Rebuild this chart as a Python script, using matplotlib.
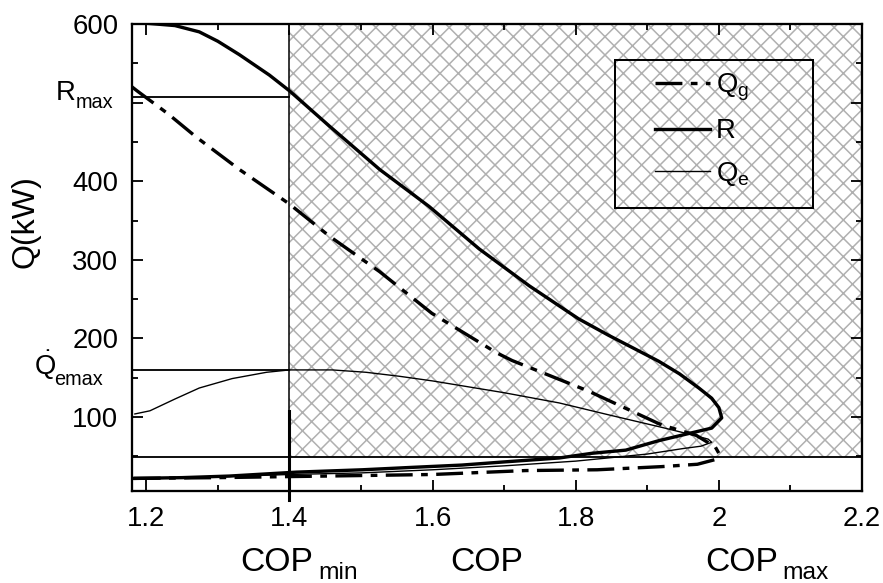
import matplotlib
matplotlib.use('Agg')
import matplotlib.pyplot as plt
from matplotlib.patches import Rectangle
from matplotlib.ticker import MultipleLocator, FixedLocator, FixedFormatter

plt.rcParams['font.family'] = ['Liberation Sans', 'DejaVu Sans']
plt.rcParams['mathtext.fontset'] = 'custom'
plt.rcParams['mathtext.rm'] = 'Liberation Sans'
plt.rcParams['mathtext.it'] = 'Liberation Sans:italic'
plt.rcParams['hatch.linewidth'] = 1.0

# limites
cop_min = 1.4
cop_max = 2.0
r_max = 507
qe_max = 160
q_low = 49

# R (kW) x COP : ramo superior e ramo inferior
cop_R = [1.18, 1.20, 1.24, 1.274, 1.30, 1.33, 1.372, 1.40, 1.456, 1.526, 1.595,
         1.665, 1.735, 1.804, 1.846, 1.88, 1.916, 1.945, 1.972, 1.99, 2.0, 2.004,
         1.99, 1.962, 1.916, 1.87, 1.823, 1.777, 1.70, 1.641, 1.57, 1.502, 1.41,
         1.316, 1.25, 1.18]
q_R = [603, 601, 598, 590, 578, 561, 535, 515, 470, 415, 368,
       314, 267, 225, 204, 188, 171, 155, 137, 124, 112, 99,
       86, 80, 70, 58, 54, 48, 43, 39, 36, 33, 30,
       25, 23, 22]

# Qg (kW) x COP
cop_Qg = [1.18, 1.187, 1.23, 1.27, 1.33, 1.40, 1.456, 1.526, 1.599, 1.689,
          1.711, 1.818, 1.92, 1.968, 1.995, 2.0, 1.995, 1.97, 1.92, 1.83,
          1.73, 1.60, 1.45, 1.30, 1.18]
q_Qg = [520, 515, 486, 456, 415, 371, 330, 285, 232, 182,
        172, 133, 90, 77, 62, 54, 46, 40, 37, 33,
        32, 27, 25, 23, 22]

# Qe (kW) x COP
cop_Qe = [1.184, 1.205, 1.24, 1.274, 1.32, 1.368, 1.40, 1.46, 1.507, 1.553,
          1.60, 1.70, 1.777, 1.85, 1.92, 1.96, 1.985, 1.99, 1.975, 1.95,
          1.90, 1.80, 1.70, 1.60, 1.50, 1.40, 1.30, 1.18]
q_Qe = [104, 108, 123, 137, 149, 157, 160, 160, 157, 152,
        146, 131, 118, 102, 87, 78, 72, 68, 63, 60,
        53, 44, 38, 33, 29, 27, 24, 21]

xticks = [1.2, 1.4, 1.6, 1.8, 2.0, 2.2]
xtick_labels = ['1.2', '1.4', '1.6', '1.8', '2', '2.2']
yticks = [100, 200, 300, 400, 500, 600]
ytick_labels = ['100', '200', '300', '400', '', '600']

W, H, DPI = 883, 583, 110
fig = plt.figure(figsize=(W / DPI, H / DPI), dpi=DPI)
ax = fig.add_axes([132 / W, 92 / H, 730 / W, 467 / H])


def px(x, y):
    return x / W, 1 - y / H


ax.set_xlim(1.18, 2.2)
ax.set_ylim(6, 600)

# regiao hachurada
ax.add_patch(Rectangle((cop_min, q_low), 2.2 - cop_min, 600 - q_low,
                       facecolor='none', edgecolor='#b0b0b0', hatch='xx',
                       lw=0, zorder=1))

# linhas de referencia
ax.axhline(q_low, color='black', lw=1.2, zorder=2)
ax.plot([1.18, cop_min], [r_max, r_max], color='black', lw=1.2, zorder=2)
ax.plot([1.18, cop_min], [qe_max, qe_max], color='black', lw=1.2, zorder=2)
ax.axvline(cop_min, ymin=-0.02, ymax=0.985, color='black', lw=1.0,
           clip_on=False, zorder=2)
ax.plot([cop_min, cop_min], [-5, 108], color='black', lw=2.0,
        clip_on=False, zorder=2)

lQg, = ax.plot(cop_Qg, q_Qg, color='black', lw=2.2,
               linestyle=(0, (8, 2.5, 2, 2.5)), zorder=3)
lR, = ax.plot(cop_R, q_R, color='black', lw=2.2, zorder=3)
lQe, = ax.plot(cop_Qe, q_Qe, color='black', lw=0.9, zorder=3)

# eixos
ax.xaxis.set_major_locator(FixedLocator(xticks))
ax.xaxis.set_major_formatter(FixedFormatter(xtick_labels))
ax.xaxis.set_minor_locator(MultipleLocator(0.1))
ax.yaxis.set_major_locator(FixedLocator(yticks))
ax.yaxis.set_major_formatter(FixedFormatter(ytick_labels))
ax.yaxis.set_minor_locator(MultipleLocator(50))
ax.tick_params(which='both', direction='in', top=True, right=True,
               width=1.2, labelsize=18)
ax.tick_params(which='major', length=7)
ax.tick_params(which='minor', length=4)
ax.tick_params(axis='y', pad=9)
ax.tick_params(axis='x', pad=10)
for s in ax.spines.values():
    s.set_linewidth(1.5)

# rotulos
fig.text(*px(26, 222), 'Q(kW)', rotation=90, ha='center', va='center',
         fontsize=21)
fig.text(*px(240, 571), 'COP', fontsize=22, ha='left', va='baseline')
fig.text(*px(318, 579), 'min', fontsize=16, ha='left', va='baseline')
fig.text(*px(450, 571), 'COP', fontsize=22, ha='left', va='baseline')
fig.text(*px(705, 571), 'COP', fontsize=22, ha='left', va='baseline')
fig.text(*px(782, 579), 'max', fontsize=16, ha='left', va='baseline')

fig.text(*px(56, 100), 'R', fontsize=18, ha='left', va='baseline')
fig.text(*px(76, 108), 'max', fontsize=13, ha='left', va='baseline')
fig.text(*px(34, 375), r'$\dot{\mathrm{Q}}$', fontsize=18, ha='left',
         va='baseline')
fig.text(*px(54, 385), 'emax', fontsize=13, ha='left', va='baseline')

# legenda
ax.add_patch(Rectangle(((615 - 132) / 730, (491 - 208) / 467), 198 / 730,
                       148 / 467, transform=ax.transAxes, fill=False,
                       lw=1.3, edgecolor='black', zorder=4))
leg = ax.legend([lQg, lR, lQe],
                [r'Q$_\mathrm{g}$', 'R', r'Q$_\mathrm{e}$'],
                loc='upper left', bbox_to_anchor=px(655, 72),
                bbox_transform=fig.transFigure, frameon=False, fontsize=18,
                handlelength=2.0, handletextpad=0.2, labelspacing=0.55,
                borderpad=0, borderaxespad=0)
leg.set_zorder(5)

fig.savefig('out.png', dpi=DPI)
